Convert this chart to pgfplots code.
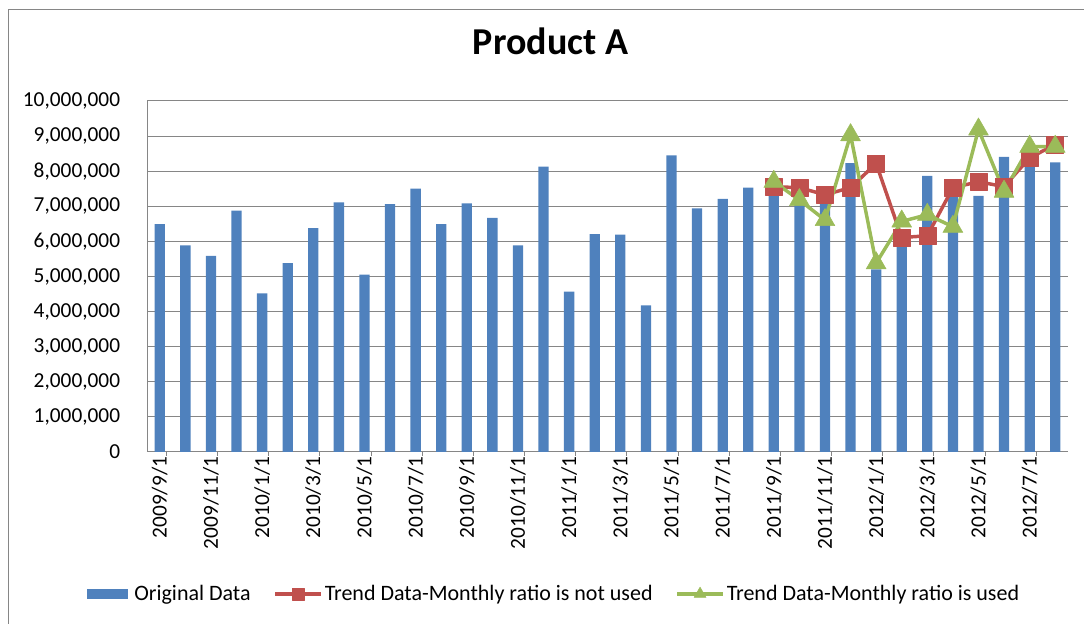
\documentclass[border=0pt]{standalone}
\usepackage{fontspec}
\setmainfont{Carlito}
\usepackage{pgfplots}
\usepackage{pgfplotstable}
\pgfplotsset{compat=1.18}
\definecolor{barblue}{HTML}{4F81BD}
\definecolor{trendred}{HTML}{C0504D}
\definecolor{trendgreen}{HTML}{9BBB59}
\definecolor{gridgray}{HTML}{868686}

\pgfplotsset{
  barleg/.style={legend image code/.code={\fill[barblue] (0pt,-4.1pt) rectangle (31pt,4.1pt); \path (34pt,0pt);}},
  lineleg/.style={legend image code/.code={\draw[##1, /tikz/every mark/.append style={scale=#1}, mark repeat=2, mark phase=2] plot coordinates {(0pt,0pt) (17.25pt,0pt) (34.5pt,0pt)};}},
}

\pgfplotstableread{
x y
0 6490000
1 5890000
2 5590000
3 6880000
4 4520000
5 5380000
6 6380000
7 7110000
8 5050000
9 7060000
10 7500000
11 6490000
12 7080000
13 6670000
14 5890000
15 8130000
16 4570000
17 6210000
18 6190000
19 4180000
20 8450000
21 6940000
22 7210000
23 7530000
24 7550000
25 7050000
26 7200000
27 8230000
28 5200000
29 6100000
30 7870000
31 7300000
32 7300000
33 8410000
34 8300000
35 8250000
}\original

\pgfplotstableread{
x y
24 7560000
25 7530000
26 7330000
27 7530000
28 8220000
29 6110000
30 6160000
31 7530000
32 7700000
33 7560000
34 8380000
35 8760000
}\trendnot

\pgfplotstableread{
x y
24 7700000
25 7180000
26 6610000
27 9030000
28 5380000
29 6570000
30 6760000
31 6420000
32 9190000
33 7420000
34 8700000
35 8700000
}\trendused

\begin{document}
\begin{tikzpicture}
\useasboundingbox (0,0) rectangle (813pt,468pt);
\draw[gridgray, line width=1pt] (6.2pt,-20pt) rectangle (840pt,461pt);
\begin{axis}[
  at={(110.25pt,129pt)}, anchor=south west,
  scale only axis, width=690.75pt, height=263.25pt,
  xmin=-0.5, xmax=35.5, ymin=0, ymax=10000000,
  axis x line*=bottom, axis y line*=left,
  axis line style={gridgray, line width=0.75pt},
  ymajorgrids, grid style={gridgray, line width=0.75pt},
  ytick={0,1000000,2000000,3000000,4000000,5000000,6000000,7000000,8000000,9000000,10000000},
  scaled y ticks=false,
  y tick style={draw=none},
  yticklabel style={/pgf/number format/.cd, fixed, precision=0, 1000 sep={,}, /tikz/.cd, inner sep=0pt, xshift=-20pt},
  /pgf/number format/assume math mode=true,
  tick label style={font=\fontsize{16}{19}\selectfont, text=black},
  xtick={0,2,...,34},
  xticklabels={2009/9/1,2009/11/1,2010/1/1,2010/3/1,2010/5/1,2010/7/1,2010/9/1,2010/11/1,2011/1/1,2011/3/1,2011/5/1,2011/7/1,2011/9/1,2011/11/1,2012/1/1,2012/3/1,2012/5/1,2012/7/1},
  xticklabel style={rotate=90, anchor=east, inner sep=0pt, xshift=-3.5pt},
  x tick style={draw=none},
  extra x ticks={0.26,2.26,4.26,6.26,8.26,10.26,12.26,14.26,16.26,18.26,20.26,22.26,24.26,26.26,28.26,30.26,32.26,34.26},
  extra x tick labels={},
  extra x tick style={tick align=outside, major tick length=3pt, x tick style={draw=gridgray, line width=0.75pt}, grid=none},
  title={Product A},
  title style={at={(axis description cs:0.4381,1.1091)}, anchor=base, inner sep=0pt, font=\fontsize{28.5}{34}\selectfont\bfseries},
  legend style={draw=none, fill=none, at={(axis description cs:0.4420,-0.4046)}, anchor=center,
    font=\fontsize{16.5}{19}\selectfont, nodes={inner xsep=1.5pt},
    /tikz/every even column/.append style={column sep=15.5pt}},
  legend columns=3,
]
\addplot[ybar, bar width=7.7pt, bar shift=0pt, fill=barblue, draw=none, barleg]
  table[x=x,y=y]{\original};
\addlegendentry{Original Data}
\addplot[color=trendred, line width=2.6pt, line join=round, mark=square*, mark size=6.4pt,
  mark options={solid, fill=trendred, line width=0.4pt}, lineleg=0.7]
  table[x=x,y=y]{\trendnot};
\addlegendentry{Trend Data-Monthly ratio is not used}
\addplot[color=trendgreen, line width=2.6pt, line join=round, mark=triangle*, mark size=8.6pt,
  mark options={solid, fill=trendgreen, line width=0.4pt}, lineleg=0.6]
  table[x=x,y=y]{\trendused};
\addlegendentry{Trend Data-Monthly ratio is used}
\end{axis}
\end{tikzpicture}
\end{document}
